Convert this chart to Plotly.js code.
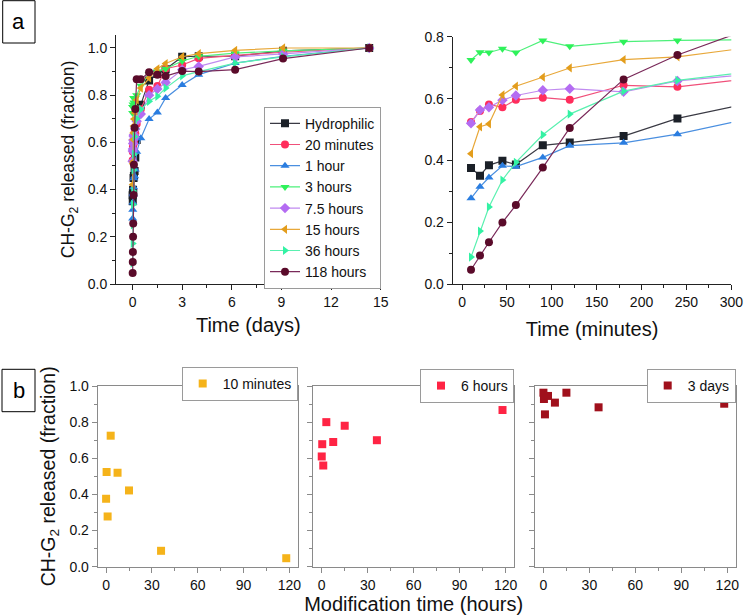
<!DOCTYPE html>
<html><head><meta charset="utf-8">
<script src="https://cdn.plot.ly/plotly-3.0.1.min.js"></script>
<style>html,body{margin:0;padding:0;background:#fff}#chart{width:745px;height:615px}</style>
</head><body><div id="chart"></div>
<script>
// Release sampling times (minutes)
const timeMinutes = [10,20,30,45,60,90,120,180,240,360,720,1440,2160,2880,4320,5760,8930,13100,20600];
const seriesNames = ['Hydrophilic','20 minutes','1 hour','3 hours','7.5 hours','15 hours','36 hours','118 hours'];
const modificationHours = [0,0.33,1,3,7.5,15,36,118];

const hydrophilic = [0.376,0.351,0.385,0.399,0.387,0.449,0.458,0.479,0.536,0.61,0.76,0.862,0.89,0.91,0.963,0.965,0.965,0.988,1.0];
const min20       = [0.524,0.560,0.581,0.572,0.596,0.603,0.596,0.643,0.638,0.678,0.74,0.823,0.839,0.912,0.928,0.956,0.969,0.982,1.0];
const hour1       = [0.278,0.315,0.345,0.383,0.380,0.410,0.448,0.457,0.485,0.56,0.618,0.699,0.727,0.788,0.843,0.887,0.936,0.965,1.0];
const hours3      = [0.725,0.750,0.749,0.761,0.749,0.788,0.769,0.784,0.788,0.80,0.84,0.89,0.90,0.912,0.945,0.965,0.978,0.988,1.0];
const hours7_5    = [0.520,0.563,0.572,0.595,0.610,0.627,0.632,0.622,0.657,0.69,0.72,0.80,0.826,0.854,0.908,0.922,0.962,0.975,1.0];
const hours15     = [0.422,0.509,0.518,0.612,0.640,0.669,0.699,0.726,0.735,0.78,0.83,0.873,0.912,0.934,0.963,0.976,0.99,1.0,1.0];
const hours36     = [0.088,0.172,0.250,0.337,0.394,0.483,0.550,0.624,0.659,0.70,0.74,0.774,0.795,0.83,0.882,0.90,0.936,0.962,1.0];
const hours118    = [0.047,0.093,0.136,0.200,0.256,0.377,0.505,0.662,0.741,0.867,0.868,0.897,0.887,0.881,0.902,0.900,0.908,0.955,1.0];
const seriesValues = [hydrophilic,min20,hour1,hours3,hours7_5,hours15,hours36,hours118];

const seriesColors  = ['#1b2028','#ff2d5c','#2a7de0','#2ef25a','#b46cf2','#e39d1c','#33f2a4','#5a0b2a'];
const seriesLines   = ['#3a3a44','#f0507a','#4a8fe0','#4df07a','#c08af0','#e8a83a','#5af0b0','#7a2a5a'];
const seriesSymbols = ['square','circle','triangle-up','triangle-down','diamond','triangle-left','triangle-right','circle'];

// Bottom panels: release after a given time vs modification time
const releaseLabels = ['10 minutes','6 hours','3 days'];
const releaseAtMinutes = [10,360,4320];
const releaseColors = ['#f5b31a','#ff2444','#a0101c'];

const FONT = 'Liberation Sans, Arial, sans-serif';
const traces = [];
const timeDays = timeMinutes.map(t => t/1440);

seriesNames.forEach((name,i) => {
  traces.push({
    x: timeDays, y: seriesValues[i], xaxis:'x', yaxis:'y', name: name, legend:'legend',
    mode:'lines+markers', cliponaxis:true,
    line:{color:seriesLines[i], width:1.2},
    marker:{symbol:seriesSymbols[i], color:seriesColors[i], size:8}
  });
});
seriesNames.forEach((name,i) => {
  traces.push({
    x: timeMinutes, y: seriesValues[i], xaxis:'x2', yaxis:'y2', name: name, showlegend:false,
    mode:'lines+markers', cliponaxis:true,
    line:{color:seriesLines[i], width:1.2},
    marker:{symbol:seriesSymbols[i], color:seriesColors[i], size:8}
  });
});
releaseLabels.forEach((lab,k) => {
  const idx = timeMinutes.indexOf(releaseAtMinutes[k]);
  traces.push({
    x: modificationHours, y: seriesValues.map(s => s[idx]),
    xaxis:'x'+(k+3), yaxis:'y'+(k+3), name: lab, legend: 'legend'+(k+2),
    mode:'markers', cliponaxis:false,
    marker:{symbol:'square', color:releaseColors[k], size:8}
  });
});

const W = 745, H = 615;
const px = v => v/W, py = v => 1 - v/H;

const topAxis = {
  showline:true, linecolor:'#222', linewidth:1, ticks:'outside', ticklen:5, tickcolor:'#222',
  showgrid:false, zeroline:false, tickfont:{size:14, color:'#111'}
};
const botAxis = {
  showline:true, mirror:true, linecolor:'#8a8a8a', linewidth:1, ticks:'outside', ticklen:5, tickcolor:'#8a8a8a',
  showgrid:false, zeroline:false, tickfont:{size:14, color:'#111'}
};

const legendBase = {bgcolor:'#fff', bordercolor:'#9a9a9a', borderwidth:1, xanchor:'right', yanchor:'middle', font:{size:14, color:'#111'}};

const layout = {
  width:W, height:H, margin:{l:0,r:0,t:0,b:0},
  paper_bgcolor:'#fff', plot_bgcolor:'#fff',
  font:{family:FONT, color:'#111'},
  xaxis: Object.assign({}, topAxis, {domain:[px(116),px(380.7)], anchor:'y', range:[-1,15], dtick:3, tick0:0,
    minor:{ticks:'outside', ticklen:3, dtick:1.5, tick0:0, tickcolor:'#222'},
    title:{text:'Time (days)', font:{size:20}, standoff:9}}),
  yaxis: Object.assign({}, topAxis, {domain:[py(284),py(35)], anchor:'x', range:[0,1.055], dtick:0.2, tickformat:'.1f',
    minor:{ticks:'outside', ticklen:3, dtick:0.1, tickcolor:'#222'},
    title:{text:'CH-G<sub>2</sub> released (fraction)', font:{size:17.5}, standoff:8}}),
  xaxis2: Object.assign({}, topAxis, {domain:[px(452.7),px(731.3)], anchor:'y2', range:[-10.4,300], dtick:50, tick0:0,
    minor:{ticks:'outside', ticklen:3, dtick:25, tick0:0, tickcolor:'#222'},
    title:{text:'Time (minutes)', font:{size:20}, standoff:12}}),
  yaxis2: Object.assign({}, topAxis, {domain:[py(284.3),py(36.7)], anchor:'x2', range:[0,0.8], dtick:0.2, tickformat:'.1f',
    minor:{ticks:'outside', ticklen:3, dtick:0.1, tickcolor:'#222'}}),
  xaxis3: Object.assign({}, botAxis, {domain:[px(97.7),px(297.7)], anchor:'y3', range:[-5.5,125.5], dtick:30, tick0:0,
    minor:{ticks:'outside', ticklen:3, dtick:15, tick0:0, tickcolor:'#8a8a8a'}}),
  yaxis3: Object.assign({}, botAxis, {domain:[py(566.7),py(386)], anchor:'x3', range:[0,1.0], dtick:0.2, tickformat:'.1f',
    minor:{ticks:'outside', ticklen:3, dtick:0.1, tickcolor:'#8a8a8a'},
    title:{text:'CH-G<sub>2</sub> released (fraction)', font:{size:19.5}, standoff:8}}),
  xaxis4: Object.assign({}, botAxis, {domain:[px(313.3),px(514)], anchor:'y4', range:[-5.5,125.5], dtick:30, tick0:0,
    minor:{ticks:'outside', ticklen:3, dtick:15, tick0:0, tickcolor:'#8a8a8a'},
    title:{text:'Modification time (hours)', font:{size:20}, standoff:1}}),
  yaxis4: Object.assign({}, botAxis, {domain:[py(566.7),py(386)], anchor:'x4', range:[0,1.0], dtick:0.2, showticklabels:false,
    minor:{ticks:'outside', ticklen:3, dtick:0.1, tickcolor:'#8a8a8a'}}),
  xaxis5: Object.assign({}, botAxis, {domain:[px(535),px(735.7)], anchor:'y5', range:[-5.5,125.5], dtick:30, tick0:0,
    minor:{ticks:'outside', ticklen:3, dtick:15, tick0:0, tickcolor:'#8a8a8a'}}),
  yaxis5: Object.assign({}, botAxis, {domain:[py(566.7),py(386)], anchor:'x5', range:[0,1.0], dtick:0.2, showticklabels:false,
    minor:{ticks:'outside', ticklen:3, dtick:0.1, tickcolor:'#8a8a8a'}}),
  legend: Object.assign({}, legendBase, {x:px(381), y:py(106.7), yanchor:'top', font:{size:14, color:'#111'}, tracegroupgap:0}),
  legend2: Object.assign({}, legendBase, {x:px(297.7), y:py(384)}),
  legend3: Object.assign({}, legendBase, {x:px(514), y:py(386)}),
  legend4: Object.assign({}, legendBase, {x:px(735.7), y:py(386)}),
  shapes: [
    {type:'rect', xref:'paper', yref:'paper', x0:px(2.7), x1:px(35), y0:py(43), y1:py(0.7), line:{color:'#000', width:1}},
    {type:'rect', xref:'paper', yref:'paper', x0:px(2), x1:px(35), y0:py(411.7), y1:py(369.3), line:{color:'#000', width:1}}
  ],
  annotations: [
    {xref:'paper', yref:'paper', x:px(18.8), y:py(22), text:'a', showarrow:false, font:{size:22, color:'#000'}, xanchor:'center', yanchor:'middle'},
    {xref:'paper', yref:'paper', x:px(18.5), y:py(390), text:'b', showarrow:false, font:{size:22, color:'#000'}, xanchor:'center', yanchor:'middle'}
  ]
};

Plotly.newPlot('chart', traces, layout, {staticPlot:true, displayModeBar:false});
</script>
</body></html>
